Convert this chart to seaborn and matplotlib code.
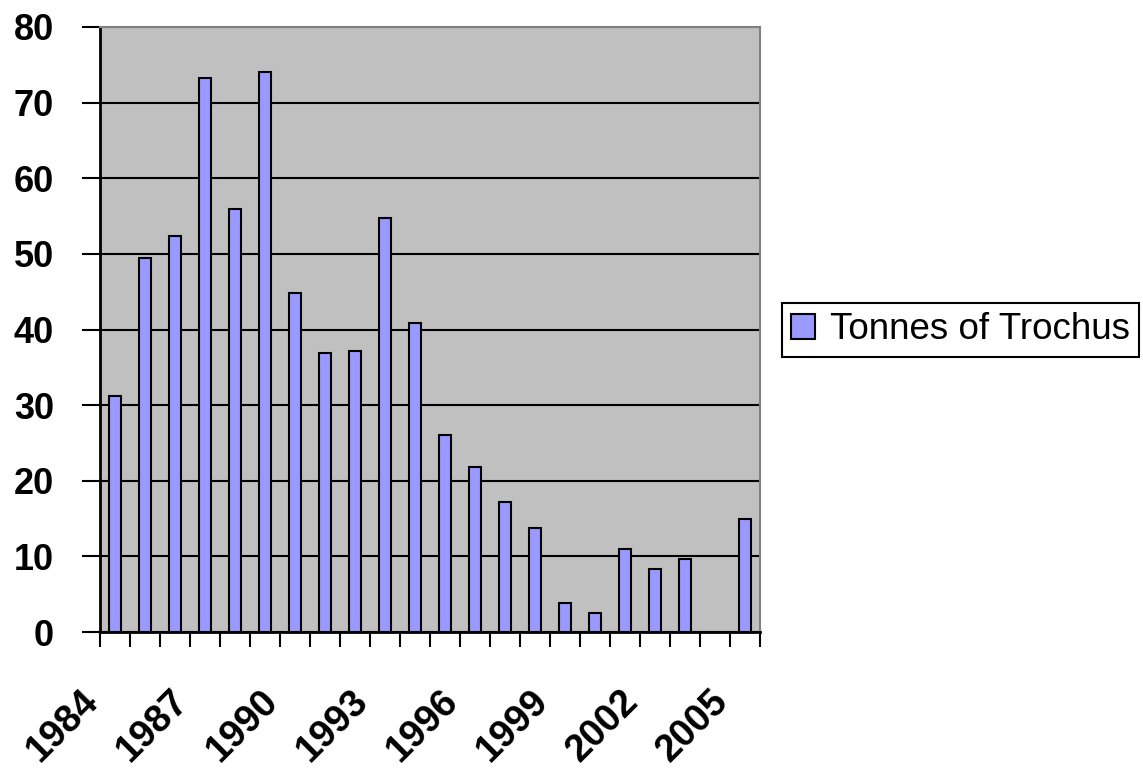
import numpy as np
import seaborn as sns
import matplotlib
matplotlib.use("Agg")
import matplotlib.pyplot as plt
import matplotlib.transforms as mtransforms

# Trochus harvest by year (2004 has no value)
years = [1984, 1985, 1986, 1987, 1988, 1989, 1990, 1991, 1992, 1993, 1994,
         1995, 1996, 1997, 1998, 1999, 2000, 2001, 2002, 2003, 2004, 2005]
tonnes = [31.2, 49.5, 52.3, 73.2, 55.9, 74.1, 44.8, 36.9, 37.2, 54.7, 40.8,
          26.0, 21.8, 17.2, 13.8, 3.8, 2.5, 11.0, 8.4, 9.6, np.nan, 14.9]
y_ticks = [0, 10, 20, 30, 40, 50, 60, 70, 80]
series_name = "Tonnes of Trochus"

sns.set_style("white")
plt.rcParams["font.family"] = ["Liberation Sans", "DejaVu Sans"]
plt.rcParams["text.color"] = "black"
plt.rcParams["xtick.color"] = "black"
plt.rcParams["ytick.color"] = "black"

year_labels = [str(y) for y in years]
px = 72 / 100  # points per pixel

fig = plt.figure(figsize=(11.43, 7.8), dpi=100)
ax = fig.add_axes([0.0875, 0.1897, 0.5775, 0.7757])

sns.barplot(x=year_labels, y=tonnes, order=year_labels, color="#9999FF",
            edgecolor="black", linewidth=1.5, width=0.42, saturation=1,
            errorbar=None, label=series_name, ax=ax)

ax.set_facecolor("#C0C0C0")
ax.set_xlim(-0.5, len(years) - 0.5)
ax.set_ylim(0, 80)
ax.set_yticks(y_ticks)
ax.yaxis.grid(True, color="black", linewidth=1.5)
ax.xaxis.grid(False)
ax.set_axisbelow(True)
ax.set_xlabel("")
ax.set_ylabel("")

# boundary ticks on the category axis, labels every third year
ax.set_xticks(np.arange(-0.5, len(years), 1))
ax.set_xticklabels([])
ax.set_xticks(range(0, len(years), 3), minor=True)
ax.set_xticklabels(year_labels[::3], minor=True, rotation=45, ha="right",
                   va="center", rotation_mode="anchor",
                   fontsize=27.5, fontweight="bold", color="black")
ax.tick_params(axis="x", which="major", length=15 * px, width=1.5,
               direction="out", bottom=True)
ax.tick_params(axis="x", which="minor", length=0, pad=64 * px, bottom=True)
shift = mtransforms.ScaledTranslation(-22 / 100, 0, fig.dpi_scale_trans)
for lab in ax.get_xticklabels(minor=True):
    lab.set_transform(lab.get_transform() + shift)

ax.tick_params(axis="y", length=18 * px, width=1.5, direction="out",
               left=True, pad=28 * px, labelsize=26)
for lab in ax.get_yticklabels():
    lab.set_fontweight("bold")
    lab.set_color("black")

ax.spines["left"].set_color("black")
ax.spines["bottom"].set_color("black")
ax.spines["left"].set_linewidth(2)
ax.spines["bottom"].set_linewidth(2)
ax.spines["top"].set_color("#808080")
ax.spines["right"].set_color("#808080")
ax.spines["top"].set_linewidth(1.5)
ax.spines["right"].set_linewidth(1.5)

leg = ax.legend(loc="center left", bbox_to_anchor=(0.684, 0.577),
                bbox_transform=fig.transFigure, fontsize=26.5, frameon=True,
                fancybox=False, framealpha=1, edgecolor="black",
                handlelength=0.65, handleheight=0.65, handletextpad=0.4,
                borderpad=0.25, borderaxespad=0)
leg.get_frame().set_linewidth(1.5)
for t in leg.get_texts():
    t.set_color("black")

fig.savefig("out.png", dpi=100)
